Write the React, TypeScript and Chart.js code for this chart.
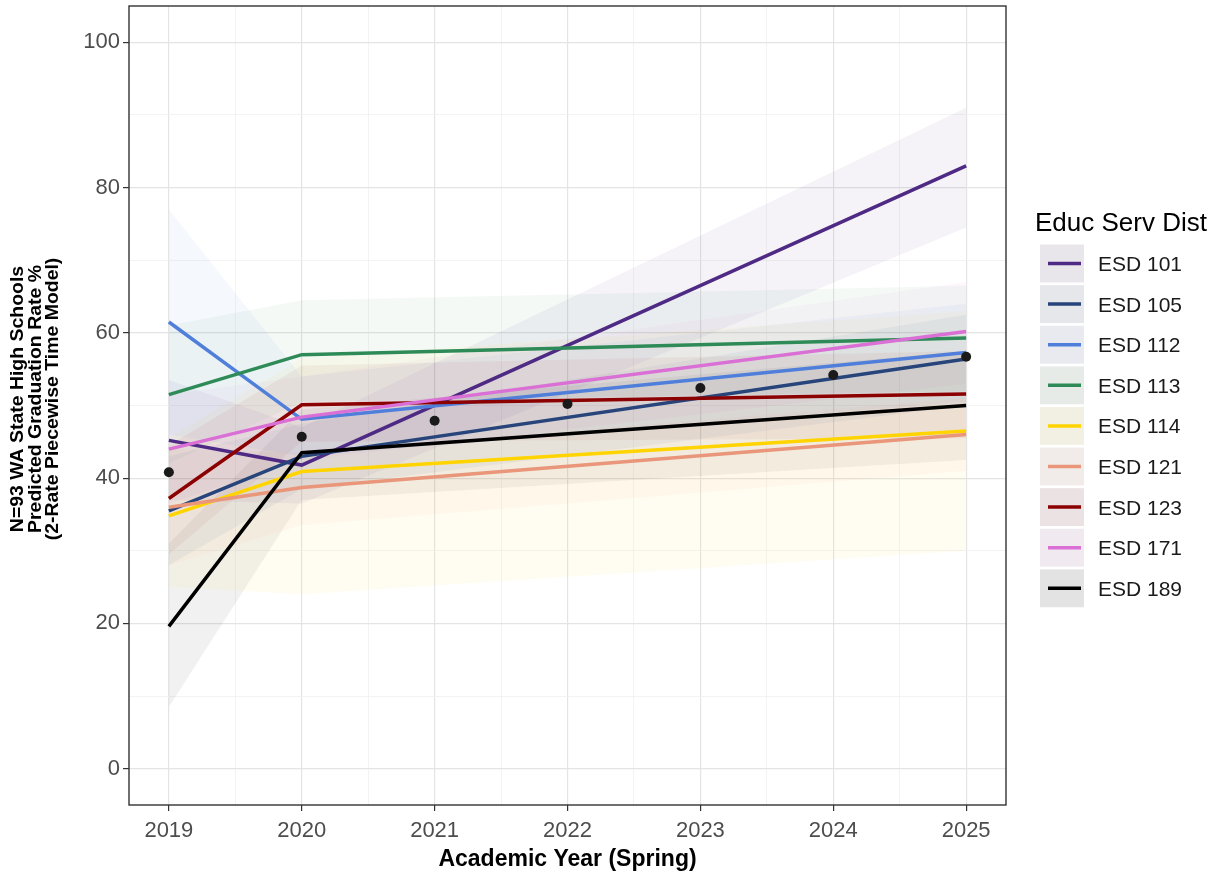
import { useEffect, useRef } from "react";
import { Chart, registerables } from "chart.js";

Chart.register(...registerables);

const FONT = "'Liberation Sans', Arial, Helvetica, sans-serif";

// Educational Service Districts and their line colours
const districts = ["ESD 101", "ESD 105", "ESD 112", "ESD 113", "ESD 114", "ESD 121", "ESD 123", "ESD 171", "ESD 189"];
const lineColors = ["#4E2A84", "#27457A", "#4F7FDA", "#2E8B57", "#FFD400", "#E9967A", "#8B0000", "#DA70D6", "#000000"];

// Knots of the 2-rate piecewise time model
const knotYears = [2019, 2020, 2025];

// Predicted graduation rate (%) at each knot, one entry per district
const fit2019 = [45.2, 35.5, 61.5, 51.5, 34.8, 36.0, 37.2, 44.0, 19.6];
const fit2020 = [41.8, 43.0, 48.1, 57.0, 40.9, 38.7, 50.1, 48.4, 43.5];
const fit2025 = [83.0, 56.4, 57.3, 59.3, 46.5, 46.0, 51.6, 60.2, 50.0];

// Confidence band around each prediction
const low2019 = [37.0, 28.0, 46.0, 42.0, 25.0, 28.0, 29.5, 36.5, 8.5];
const low2020 = [36.5, 38.5, 43.0, 50.5, 24.0, 33.5, 45.0, 42.5, 37.0];
const low2025 = [74.5, 50.0, 50.5, 52.0, 30.0, 41.0, 45.5, 53.0, 42.5];
const high2019 = [53.5, 43.0, 77.0, 61.0, 45.5, 44.0, 44.5, 51.5, 31.0];
const high2020 = [47.0, 47.5, 54.0, 64.5, 56.5, 43.5, 55.5, 54.0, 49.5];
const high2025 = [91.0, 62.5, 64.0, 66.5, 63.0, 51.0, 57.5, 67.0, 57.5];

// Observed statewide mean graduation rate by year
const observedYears = [2019, 2020, 2021, 2022, 2023, 2024, 2025];
const observedMeans = [40.8, 45.7, 47.9, 50.2, 52.4, 54.2, 56.7];

// Axis ticks (majors carry labels, half steps are minor grid lines)
const xTickYears = [2019, 2020, 2021, 2022, 2023, 2024, 2025];
const yTickValues = [0, 20, 40, 60, 80, 100];

const yTitleLines = ["N=93 WA State High Schools", "Predicted Graduation Rate %", "(2-Rate Piecewise Time Model)"];
const xTitle = "Academic Year (Spring)";
const legendTitle = "Educ Serv Dist";

function rgba(hex: string, a: number) {
  const n = parseInt(hex.slice(1), 16);
  return `rgba(${(n >> 16) & 255},${(n >> 8) & 255},${n & 255},${a})`;
}

const BAND_ALPHA = 0.055;

const decorPlugin = {
  id: "decor",
  afterDatasetsDraw(chart: any) {
    const { ctx, chartArea } = chart;
    ctx.save();
    ctx.strokeStyle = "#333333";
    ctx.lineWidth = 1.4;
    ctx.strokeRect(chartArea.left, chartArea.top, chartArea.right - chartArea.left, chartArea.bottom - chartArea.top);
    ctx.restore();
  },
  afterDraw(chart: any) {
    const { ctx, chartArea } = chart;
    ctx.save();
    ctx.fillStyle = "#000000";

    // y-axis title, three rotated lines
    ctx.font = `bold 18px ${FONT}`;
    ctx.textAlign = "center";
    ctx.textBaseline = "middle";
    const lineX = [18, 36, 53];
    yTitleLines.forEach((t, i) => {
      ctx.save();
      ctx.translate(lineX[i], 399);
      ctx.rotate(-Math.PI / 2);
      ctx.scale(1.08, 1);
      ctx.fillText(t, 0, 0);
      ctx.restore();
    });

    // x-axis title
    ctx.font = `bold 23px ${FONT}`;
    ctx.textBaseline = "alphabetic";
    ctx.fillText(xTitle, (chartArea.left + chartArea.right) / 2, 866);

    // legend
    ctx.textAlign = "left";
    ctx.font = `26px ${FONT}`;
    ctx.fillText(legendTitle, 1035, 231);
    ctx.font = `21px ${FONT}`;
    districts.forEach((name, i) => {
      const cy = 263.5 + i * 40.6;
      ctx.fillStyle = "#FFFFFF";
      ctx.fillRect(1040, cy - 19, 44, 38);
      ctx.fillStyle = "rgba(0,0,0,0.05)";
      ctx.fillRect(1040, cy - 19, 44, 38);
      ctx.fillStyle = rgba(lineColors[i], 0.06);
      ctx.fillRect(1040, cy - 19, 44, 38);
      ctx.strokeStyle = lineColors[i];
      ctx.lineWidth = 3.5;
      ctx.beginPath();
      ctx.moveTo(1048, cy);
      ctx.lineTo(1081, cy);
      ctx.stroke();
      ctx.fillStyle = "#1A1A1A";
      ctx.fillText(name, 1098, cy + 7.5);
    });
    ctx.restore();
  },
};

export default function App() {
  const canvasRef = useRef<HTMLCanvasElement | null>(null);

  useEffect(() => {
    const canvas = canvasRef.current;
    if (!canvas) return;

    const datasets: any[] = [];
    districts.forEach((name, i) => {
      const low = [low2019[i], low2020[i], low2025[i]];
      const high = [high2019[i], high2020[i], high2025[i]];
      datasets.push({
        label: name + " lower",
        data: knotYears.map((x, k) => ({ x, y: low[k] })),
        borderWidth: 0,
        pointRadius: 0,
        fill: false,
        order: 50,
      });
      datasets.push({
        label: name + " upper",
        data: knotYears.map((x, k) => ({ x, y: high[k] })),
        borderWidth: 0,
        pointRadius: 0,
        backgroundColor: rgba(lineColors[i], BAND_ALPHA),
        fill: "-1",
        order: 50,
      });
    });
    districts.forEach((name, i) => {
      const fit = [fit2019[i], fit2020[i], fit2025[i]];
      datasets.push({
        label: name,
        data: knotYears.map((x, k) => ({ x, y: fit[k] })),
        borderColor: lineColors[i],
        borderWidth: 3.5,
        pointRadius: 0,
        fill: false,
        tension: 0,
        order: 30 - i,
      });
    });
    datasets.push({
      label: "Observed mean",
      data: observedYears.map((x, k) => ({ x, y: observedMeans[k] })),
      showLine: false,
      pointRadius: 5,
      pointBackgroundColor: "#1A1A1A",
      pointBorderWidth: 0,
      fill: false,
      order: 0,
    });

    const chart = new Chart(canvas, {
      type: "line",
      data: { datasets },
      options: {
        responsive: false,
        devicePixelRatio: 1,
        animation: false,
        events: [],
        layout: { padding: { top: 6, right: 209, bottom: 0, left: 0 } },
        plugins: { legend: { display: false }, tooltip: { enabled: false } },
        scales: {
          x: {
            type: "linear",
            min: 2018.7,
            max: 2025.3,
            afterBuildTicks: (scale: any) => {
              const vals: number[] = [];
              xTickYears.forEach((y, k) => {
                vals.push(y);
                if (k < xTickYears.length - 1) vals.push(y + 0.5);
              });
              scale.ticks = vals.map((v) => ({ value: v }));
            },
            afterFit: (scale: any) => {
              scale.height = 69;
              scale.paddingLeft = 0;
              scale.paddingRight = 0;
            },
            border: { display: false },
            grid: {
              color: (c: any) => (Number.isInteger(c.tick?.value) ? "#E4E4E4" : "#F0F0F0"),
              lineWidth: (c: any) => (Number.isInteger(c.tick?.value) ? 1.2 : 0.8),
              tickColor: (c: any) => (Number.isInteger(c.tick?.value) ? "#333333" : "rgba(0,0,0,0)"),
              tickLength: 6,
              tickWidth: 1.2,
            },
            ticks: {
              autoSkip: false,
              maxRotation: 0,
              padding: 7,
              color: "#4D4D4D",
              font: { family: FONT, size: 22 },
              callback: (v: any) => (Number.isInteger(v) ? String(v) : ""),
            },
          },
          y: {
            type: "linear",
            min: -5,
            max: 105,
            afterBuildTicks: (scale: any) => {
              const vals: number[] = [];
              yTickValues.forEach((y, k) => {
                vals.push(y);
                if (k < yTickValues.length - 1) vals.push(y + 10);
              });
              scale.ticks = vals.map((v) => ({ value: v }));
            },
            afterFit: (scale: any) => {
              scale.width = 129;
              scale.paddingTop = 0;
              scale.paddingBottom = 0;
            },
            border: { display: false },
            grid: {
              color: (c: any) => (yTickValues.includes(c.tick?.value) ? "#E4E4E4" : "#F0F0F0"),
              lineWidth: (c: any) => (yTickValues.includes(c.tick?.value) ? 1.2 : 0.8),
              tickColor: (c: any) => (yTickValues.includes(c.tick?.value) ? "#333333" : "rgba(0,0,0,0)"),
              tickLength: 6,
              tickWidth: 1.2,
            },
            ticks: {
              padding: 3,
              color: "#4D4D4D",
              font: { family: FONT, size: 22 },
              callback: (v: any) => (yTickValues.includes(v) ? String(v) : ""),
            },
          },
        },
      },
      plugins: [decorPlugin],
    });

    return () => chart.destroy();
  }, []);

  return (
    <div style={{ position: "absolute", left: 0, top: 0, width: 1215, height: 874, background: "#FFFFFF" }}>
      <canvas ref={canvasRef} width={1215} height={874} />
    </div>
  );
}
